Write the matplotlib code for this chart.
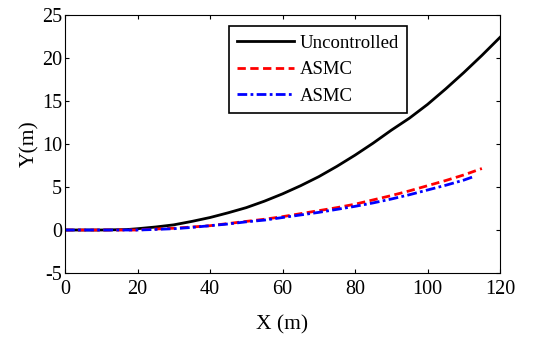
import matplotlib.pyplot as plt
import numpy as np

# values
x_unc = [0, 10, 17, 20, 25, 30, 35, 40, 45, 50, 55, 60, 65, 70, 75, 80, 85, 90, 95, 100, 105, 110, 115, 120]
y_unc = [0, 0, 0.05, 0.15, 0.35, 0.6, 1.0, 1.45, 2.0, 2.6, 3.35, 4.2, 5.15, 6.2, 7.4, 8.7, 10.1, 11.6, 13.0, 14.6, 16.4, 18.3, 20.3, 22.4]

x_red = [0, 10, 20, 24, 30, 35, 40, 45, 50, 55, 60, 65, 70, 75, 80, 85, 90, 95, 100, 105, 110, 115]
y_red = [0, 0, 0, 0.1, 0.2, 0.35, 0.5, 0.75, 1.0, 1.25, 1.55, 1.9, 2.25, 2.6, 3.0, 3.5, 4.0, 4.55, 5.15, 5.75, 6.4, 7.15]

x_blue = [0, 10, 20, 24, 30, 35, 40, 45, 50, 55, 60, 65, 70, 75, 80, 85, 90, 95, 100, 105, 110, 113]
y_blue = [0, 0, 0, 0.05, 0.15, 0.3, 0.5, 0.7, 0.95, 1.15, 1.45, 1.75, 2.05, 2.4, 2.75, 3.15, 3.6, 4.1, 4.65, 5.2, 5.8, 6.25]

plt.rcParams['font.family'] = 'Liberation Serif'
plt.rcParams['axes.unicode_minus'] = False

fig = plt.figure(figsize=(5.4, 3.38), dpi=100)
ax = fig.add_axes([65/540, 1 - 273/338, 435/540, 258/338])

ax.plot(x_unc, y_unc, '-', color='black', linewidth=2.0, label='Uncontrolled')
ax.plot(x_red, y_red, '--', color='red', linewidth=2.0, dashes=(3, 1.6), label='ASMC')
ax.plot(x_blue, y_blue, '-.', color='blue', linewidth=2.0, dashes=(3.5, 1.2, 1, 1.2), label='ASMC')

ax.set_xlim(0, 120)
ax.set_ylim(-5, 25)
ax.set_xticks(np.arange(0, 121, 20))
ax.set_yticks(np.arange(-5, 26, 5))
ax.tick_params(direction='in', top=True, right=True, length=3, labelsize=14.5)
ax.tick_params(axis='x', pad=5)
ax.tick_params(axis='y', pad=2)
ax.set_xlabel('X (m)', fontsize=15.5, labelpad=12)
ax.set_ylabel('Y(m)', fontsize=15.5, labelpad=2)

leg = ax.legend(loc='upper left', bbox_to_anchor=(164/435, 1 - 11/258), fancybox=False,
                edgecolor='black', framealpha=1, fontsize=13.5, handlelength=3.0,
                borderpad=0.45, labelspacing=0.5, handletextpad=0.3, borderaxespad=0)
leg.get_frame().set_linewidth(1.2)

fig.savefig('out.png', dpi=100)
